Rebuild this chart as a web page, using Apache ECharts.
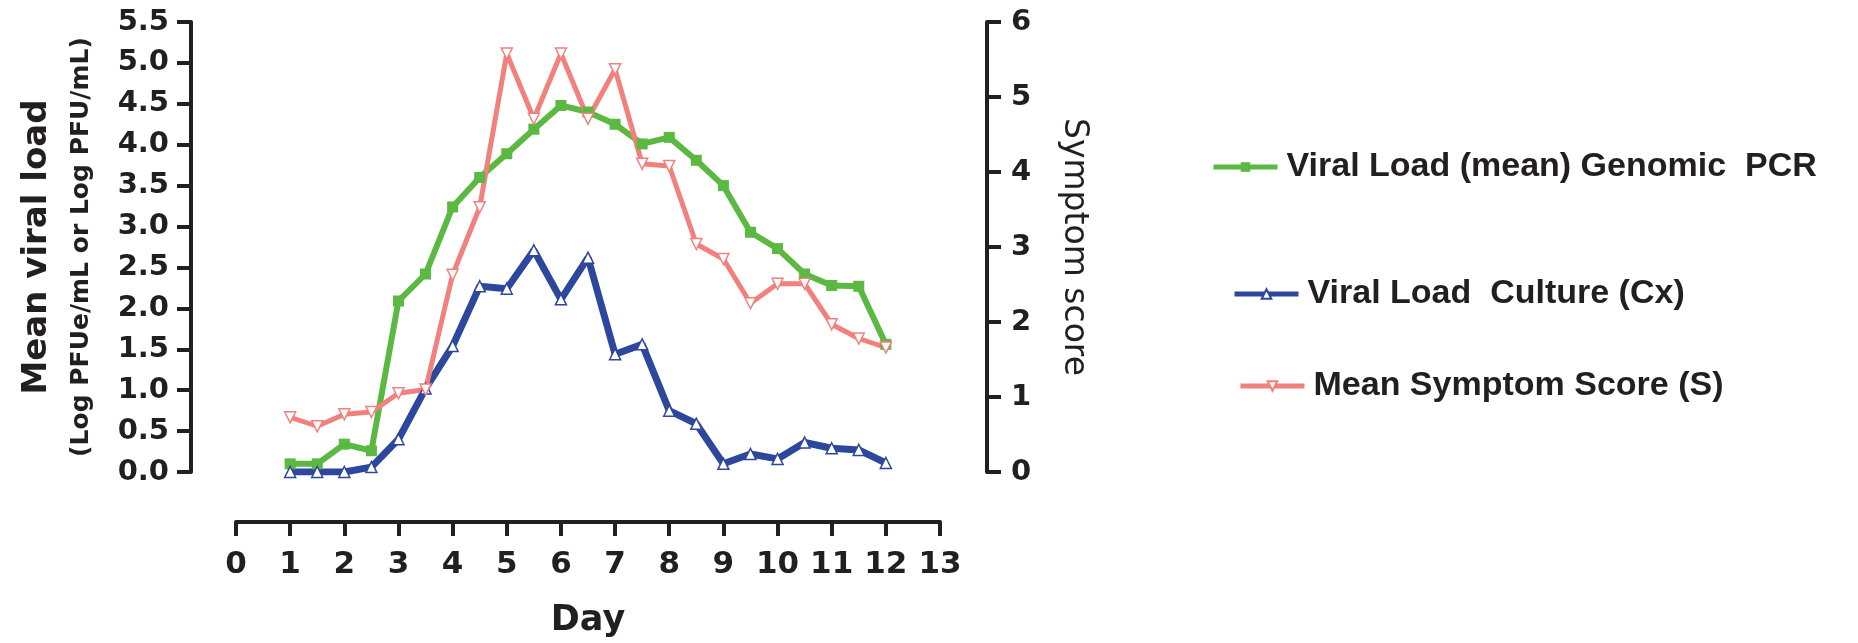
<!DOCTYPE html>
<html>
<head>
<meta charset="utf-8">
<title>Viral load and symptom score by day</title>
<script src="https://cdn.jsdelivr.net/npm/echarts@6/dist/echarts.min.js"></script>
<style>
  html, body { margin: 0; padding: 0; background: #fff; }
  #chart { width: 1858px; height: 643px; }
</style>
</head>
<body>
<div id="chart"></div>
<script>
// values, one entry per half day
const days = [1, 1.5, 2, 2.5, 3, 3.5, 4, 4.5, 5, 5.5, 6, 6.5, 7, 7.5, 8, 8.5, 9, 9.5, 10, 10.5, 11, 11.5, 12];
const pcrLoad = [0.10, 0.10, 0.34, 0.26, 2.09, 2.42, 3.24, 3.60, 3.89, 4.19, 4.48, 4.40, 4.25, 4.01, 4.09, 3.81, 3.50, 2.93, 2.73, 2.42, 2.28, 2.27, 1.56];
const cultureLoad = [0.00, 0.00, 0.00, 0.06, 0.40, 1.02, 1.54, 2.27, 2.24, 2.71, 2.11, 2.62, 1.44, 1.56, 0.75, 0.59, 0.10, 0.22, 0.16, 0.36, 0.29, 0.27, 0.11];
const symptomScore = [0.73, 0.61, 0.77, 0.80, 1.05, 1.10, 2.63, 3.53, 5.58, 4.71, 5.58, 4.71, 5.37, 4.11, 4.08, 3.04, 2.84, 2.25, 2.51, 2.51, 1.97, 1.78, 1.66];

const seriesNames = ['Viral Load (mean) Genomic  PCR', 'Viral Load  Culture (Cx)', 'Mean Symptom Score (S)'];
const dayTicks = [0, 13];
const loadTicks = [0, 5.5];
const scoreTicks = [0, 6];

const ink = '#231F20';
const green = '#5BB840';
const blue = '#2D479C';
const pink = '#F2807D';

const pairs = (vals) => days.map((d, i) => [d, vals[i]]);

const chart = echarts.init(document.getElementById('chart'));

const axisLine = { show: true, onZero: false, lineStyle: { color: ink, width: 4 } };
const axisTick = { show: true, length: 14, lineStyle: { color: ink, width: 4 } };

const legendBase = {
  orient: 'vertical',
  padding: 0,
  itemWidth: 64,
  itemHeight: 12,
  lineStyle: { width: 5 },
  textStyle: { color: ink, fontFamily: 'Liberation Sans', fontWeight: 'bold', fontSize: 34, padding: [0, 0, 0, 4] }
};

const option = {
  backgroundColor: '#fff',
  animation: false,
  grid: { left: 236, right: 918, top: 22, bottom: 170 },
  legend: [
    Object.assign({}, legendBase, { data: [seriesNames[0]], left: 1211, top: 150 }),
    Object.assign({}, legendBase, { data: [seriesNames[1]], left: 1232, top: 277 }),
    Object.assign({}, legendBase, { data: [seriesNames[2]], left: 1238, top: 369 })
  ],
  xAxis: {
    type: 'value',
    min: dayTicks[0],
    max: dayTicks[1],
    interval: 1,
    offset: 50,
    name: 'Day',
    nameLocation: 'middle',
    nameGap: 81,
    nameTextStyle: { color: ink, fontFamily: 'DejaVu Sans', fontWeight: 'bold', fontSize: 35 },
    axisLine: axisLine,
    axisTick: axisTick,
    axisLabel: { color: ink, fontFamily: 'DejaVu Sans', fontWeight: 'bold', fontSize: 31, margin: 27 },
    splitLine: { show: false }
  },
  yAxis: [
    {
      type: 'value',
      position: 'left',
      min: loadTicks[0],
      max: loadTicks[1],
      interval: 0.5,
      offset: 45,
      name: '{a|Mean viral load}\n{b|(Log PFUe/mL or Log PFU/mL)}',
      nameLocation: 'middle',
      nameRotate: 90,
      nameGap: 88,
      nameTextStyle: {
        color: ink,
        align: 'center',
        rich: {
          a: { color: ink, fontFamily: 'DejaVu Sans', fontWeight: 'bold', fontSize: 34, lineHeight: 44 },
          b: { color: ink, fontFamily: 'DejaVu Sans', fontWeight: 'bold', fontSize: 25, lineHeight: 44 }
        }
      },
      axisLine: axisLine,
      axisTick: axisTick,
      axisLabel: {
        color: ink, fontFamily: 'DejaVu Sans', fontWeight: 'bold', fontSize: 29, margin: 22,
        formatter: (v) => v.toFixed(1)
      },
      splitLine: { show: false }
    },
    {
      type: 'value',
      position: 'right',
      min: scoreTicks[0],
      max: scoreTicks[1],
      interval: 1,
      offset: 47,
      name: 'Symptom score',
      nameLocation: 'middle',
      nameRotate: -90,
      nameGap: 70,
      nameTextStyle: { color: ink, fontFamily: 'DejaVu Sans', fontSize: 33 },
      axisLine: axisLine,
      axisTick: axisTick,
      axisLabel: { color: ink, fontFamily: 'DejaVu Sans', fontWeight: 'bold', fontSize: 29, margin: 24 },
      splitLine: { show: false }
    }
  ],
  series: [
    {
      name: seriesNames[0],
      type: 'line',
      yAxisIndex: 0,
      data: pairs(pcrLoad),
      symbol: 'rect',
      symbolSize: 11,
      lineStyle: { color: green, width: 6 },
      itemStyle: { color: green }
    },
    {
      name: seriesNames[1],
      type: 'line',
      yAxisIndex: 0,
      data: pairs(cultureLoad),
      symbol: 'triangle',
      symbolSize: 11,
      lineStyle: { color: blue, width: 7 },
      itemStyle: { color: '#fff', borderColor: blue, borderWidth: 1.5 }
    },
    {
      name: seriesNames[2],
      type: 'line',
      yAxisIndex: 1,
      data: pairs(symptomScore),
      symbol: 'triangle',
      symbolRotate: 180,
      symbolSize: 11,
      lineStyle: { color: pink, width: 5 },
      itemStyle: { color: '#fff', borderColor: pink, borderWidth: 1.5 }
    }
  ]
};

chart.setOption(option);
window.addEventListener('resize', () => chart.resize());
</script>
</body>
</html>
